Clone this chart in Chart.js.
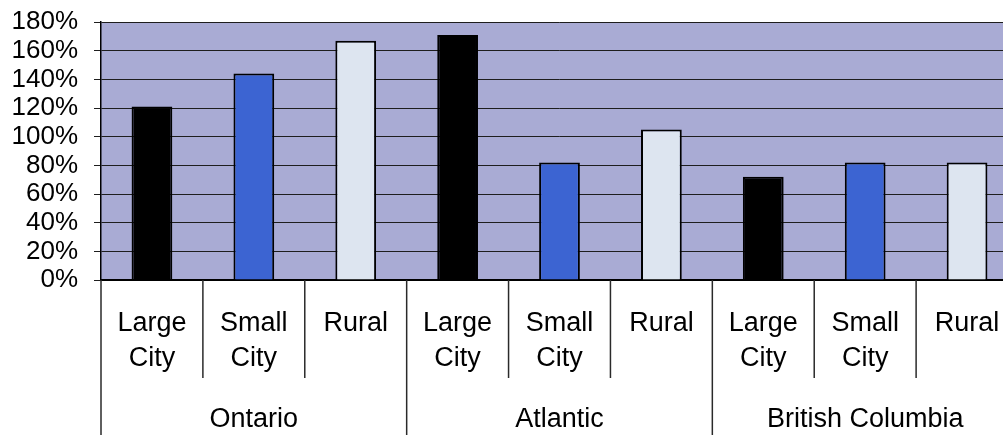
<!DOCTYPE html>
<html>
<head>
<meta charset="utf-8">
<script src="https://cdn.jsdelivr.net/npm/chart.js@4"></script>
<style>
  html, body { margin: 0; padding: 0; background: #fff; overflow: hidden; }
  #wrap { width: 1018px; height: 435px; }
</style>
</head>
<body>
<div id="wrap"><canvas id="chart" width="1018" height="435"></canvas></div>
<script>
// Regions and settlement types
const regions = ['Ontario', 'Atlantic', 'British Columbia'];
const settlementTypes = [['Large', 'City'], ['Small', 'City'], ['Rural']];
const typeColors = ['#000000', '#3c64d2', '#dde5f0'];

// Percent values, in region order, one per settlement type
const values = [121, 144, 167, 171, 82, 105, 72, 82, 82];

// y axis range (percent)
const yMin = 0;
const yMax = 180;
const yStep = 20;

const labels = [];
const barColors = [];
regions.forEach(r => {
    settlementTypes.forEach((t, j) => {
        labels.push(r + ' ' + t.join(' '));
        barColors.push(typeColors[j]);
    });
});

const FONT = '"Liberation Sans", Arial, sans-serif';

// shaded plot background
const plotBackground = {
    id: 'plotBackground',
    beforeDraw(chart) {
        const { ctx, chartArea: a } = chart;
        ctx.save();
        ctx.fillStyle = '#a9abd4';
        ctx.fillRect(a.left, a.top, a.right - a.left, a.bottom - a.top);
        ctx.restore();
    }
};

// two-level category labels with separators under the axis
const groupedAxis = {
    id: 'groupedAxis',
    afterDraw(chart) {
        const { ctx, chartArea: a, scales } = chart;
        const x = scales.x;
        const n = labels.length;
        const w = (x.getPixelForValue(n - 1) - x.getPixelForValue(0)) / (n - 1);
        const h = chart.height;
        ctx.save();
        ctx.strokeStyle = '#2a2a2a';
        ctx.lineWidth = 1.5;
        for (let i = 0; i < n; i++) {
            const left = x.getPixelForValue(i) - w / 2;
            const isGroupEdge = i % settlementTypes.length === 0;
            ctx.beginPath();
            ctx.moveTo(left, a.bottom);
            ctx.lineTo(left, isGroupEdge ? h : a.bottom + 98);
            ctx.stroke();
        }
        ctx.fillStyle = '#000';
        ctx.textAlign = 'center';
        ctx.textBaseline = 'alphabetic';
        ctx.font = '27px ' + FONT;
        for (let i = 0; i < n; i++) {
            const cx = x.getPixelForValue(i);
            settlementTypes[i % settlementTypes.length].forEach((line, k) => {
                ctx.fillText(line, cx, a.bottom + 51 + k * 35);
            });
        }
        regions.forEach((r, g) => {
            const first = g * settlementTypes.length;
            const last = first + settlementTypes.length - 1;
            const cx = (x.getPixelForValue(first) + x.getPixelForValue(last)) / 2;
            ctx.fillText(r, cx, a.bottom + 147);
        });
        ctx.restore();
    }
};

new Chart(document.getElementById('chart'), {
    type: 'bar',
    data: {
        labels: labels,
        datasets: [{
            data: values,
            backgroundColor: barColors,
            borderColor: '#000',
            borderWidth: 2,
            barPercentage: 0.4,
            categoryPercentage: 1
        }]
    },
    options: {
        responsive: false,
        animation: false,
        layout: { padding: { top: 22, right: 0, bottom: 0, left: 0 } },
        plugins: {
            legend: { display: false },
            tooltip: { enabled: false }
        },
        scales: {
            x: {
                grid: { display: false },
                border: { color: '#000', width: 2 },
                ticks: { display: false },
                afterFit(scale) { scale.height = 155; }
            },
            y: {
                min: yMin,
                max: yMax,
                ticks: {
                    stepSize: yStep,
                    autoSkip: false,
                    color: '#000',
                    padding: 16,
                    font: { family: FONT, size: 26 },
                    callback: v => v + '%'
                },
                grid: { color: '#1e1e1e', lineWidth: 1, tickLength: 7 },
                border: { color: '#000', width: 1.5 },
                afterFit(scale) {
                    scale.width = 101;
                    scale.paddingTop = 0;
                    scale.paddingBottom = 0;
                }
            }
        }
    },
    plugins: [plotBackground, groupedAxis]
});
</script>
</body>
</html>
